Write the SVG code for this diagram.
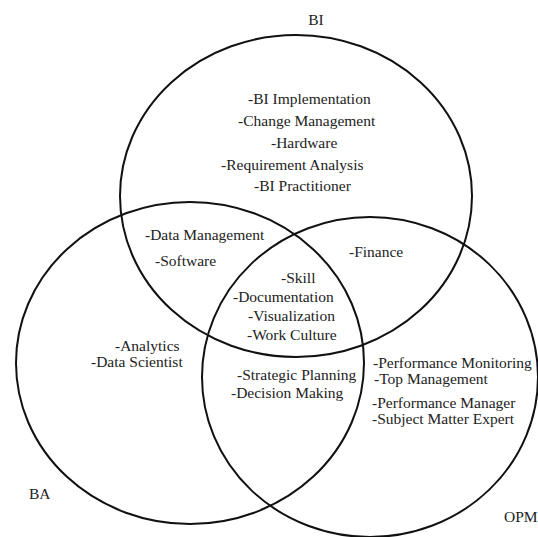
<svg xmlns="http://www.w3.org/2000/svg" width="538" height="537" viewBox="0 0 538 537">
<style>
.c{fill:none;stroke:#111;stroke-width:2}
text{font-family:"Liberation Serif","Times New Roman",serif;font-size:15.5px;fill:#222}
</style>
<rect width="538" height="537" fill="#fff"/>
<g id="BI">
<ellipse class="c" cx="296" cy="196" rx="176" ry="161"/>
<text x="316" y="25" text-anchor="middle">BI</text>
<text x="248" y="104">-BI Implementation</text>
<text x="238" y="126">-Change Management</text>
<text x="271" y="148">-Hardware</text>
<text x="221" y="170">-Requirement Analysis</text>
<text x="254" y="191">-BI Practitioner</text>
</g>
<g id="BA">
<ellipse class="c" cx="190" cy="363" rx="174" ry="161"/>
<text x="29" y="499">BA</text>
<text x="115" y="351">-Analytics</text>
<text x="91" y="367">-Data Scientist</text>
</g>
<g id="OPM">
<ellipse class="c" cx="370" cy="377" rx="168" ry="160"/>
<text x="504" y="522">OPM</text>
<text x="373" y="368">-Performance Monitoring</text>
<text x="374" y="384">-Top Management</text>
<text x="372" y="408">-Performance Manager</text>
<text x="372" y="424">-Subject Matter Expert</text>
</g>
<g id="BI-BA">
<text x="145" y="240">-Data Management</text>
<text x="155" y="266">-Software</text>
</g>
<g id="BI-OPM">
<text x="349" y="257">-Finance</text>
</g>
<g id="BA-OPM">
<text x="237" y="380">-Strategic Planning</text>
<text x="231" y="398">-Decision Making</text>
</g>
<g id="ALL">
<text x="281" y="283">-Skill</text>
<text x="233" y="302">-Documentation</text>
<text x="248" y="321">-Visualization</text>
<text x="247" y="340">-Work Culture</text>
</g>
<g id="connectors"></g>
</svg>
